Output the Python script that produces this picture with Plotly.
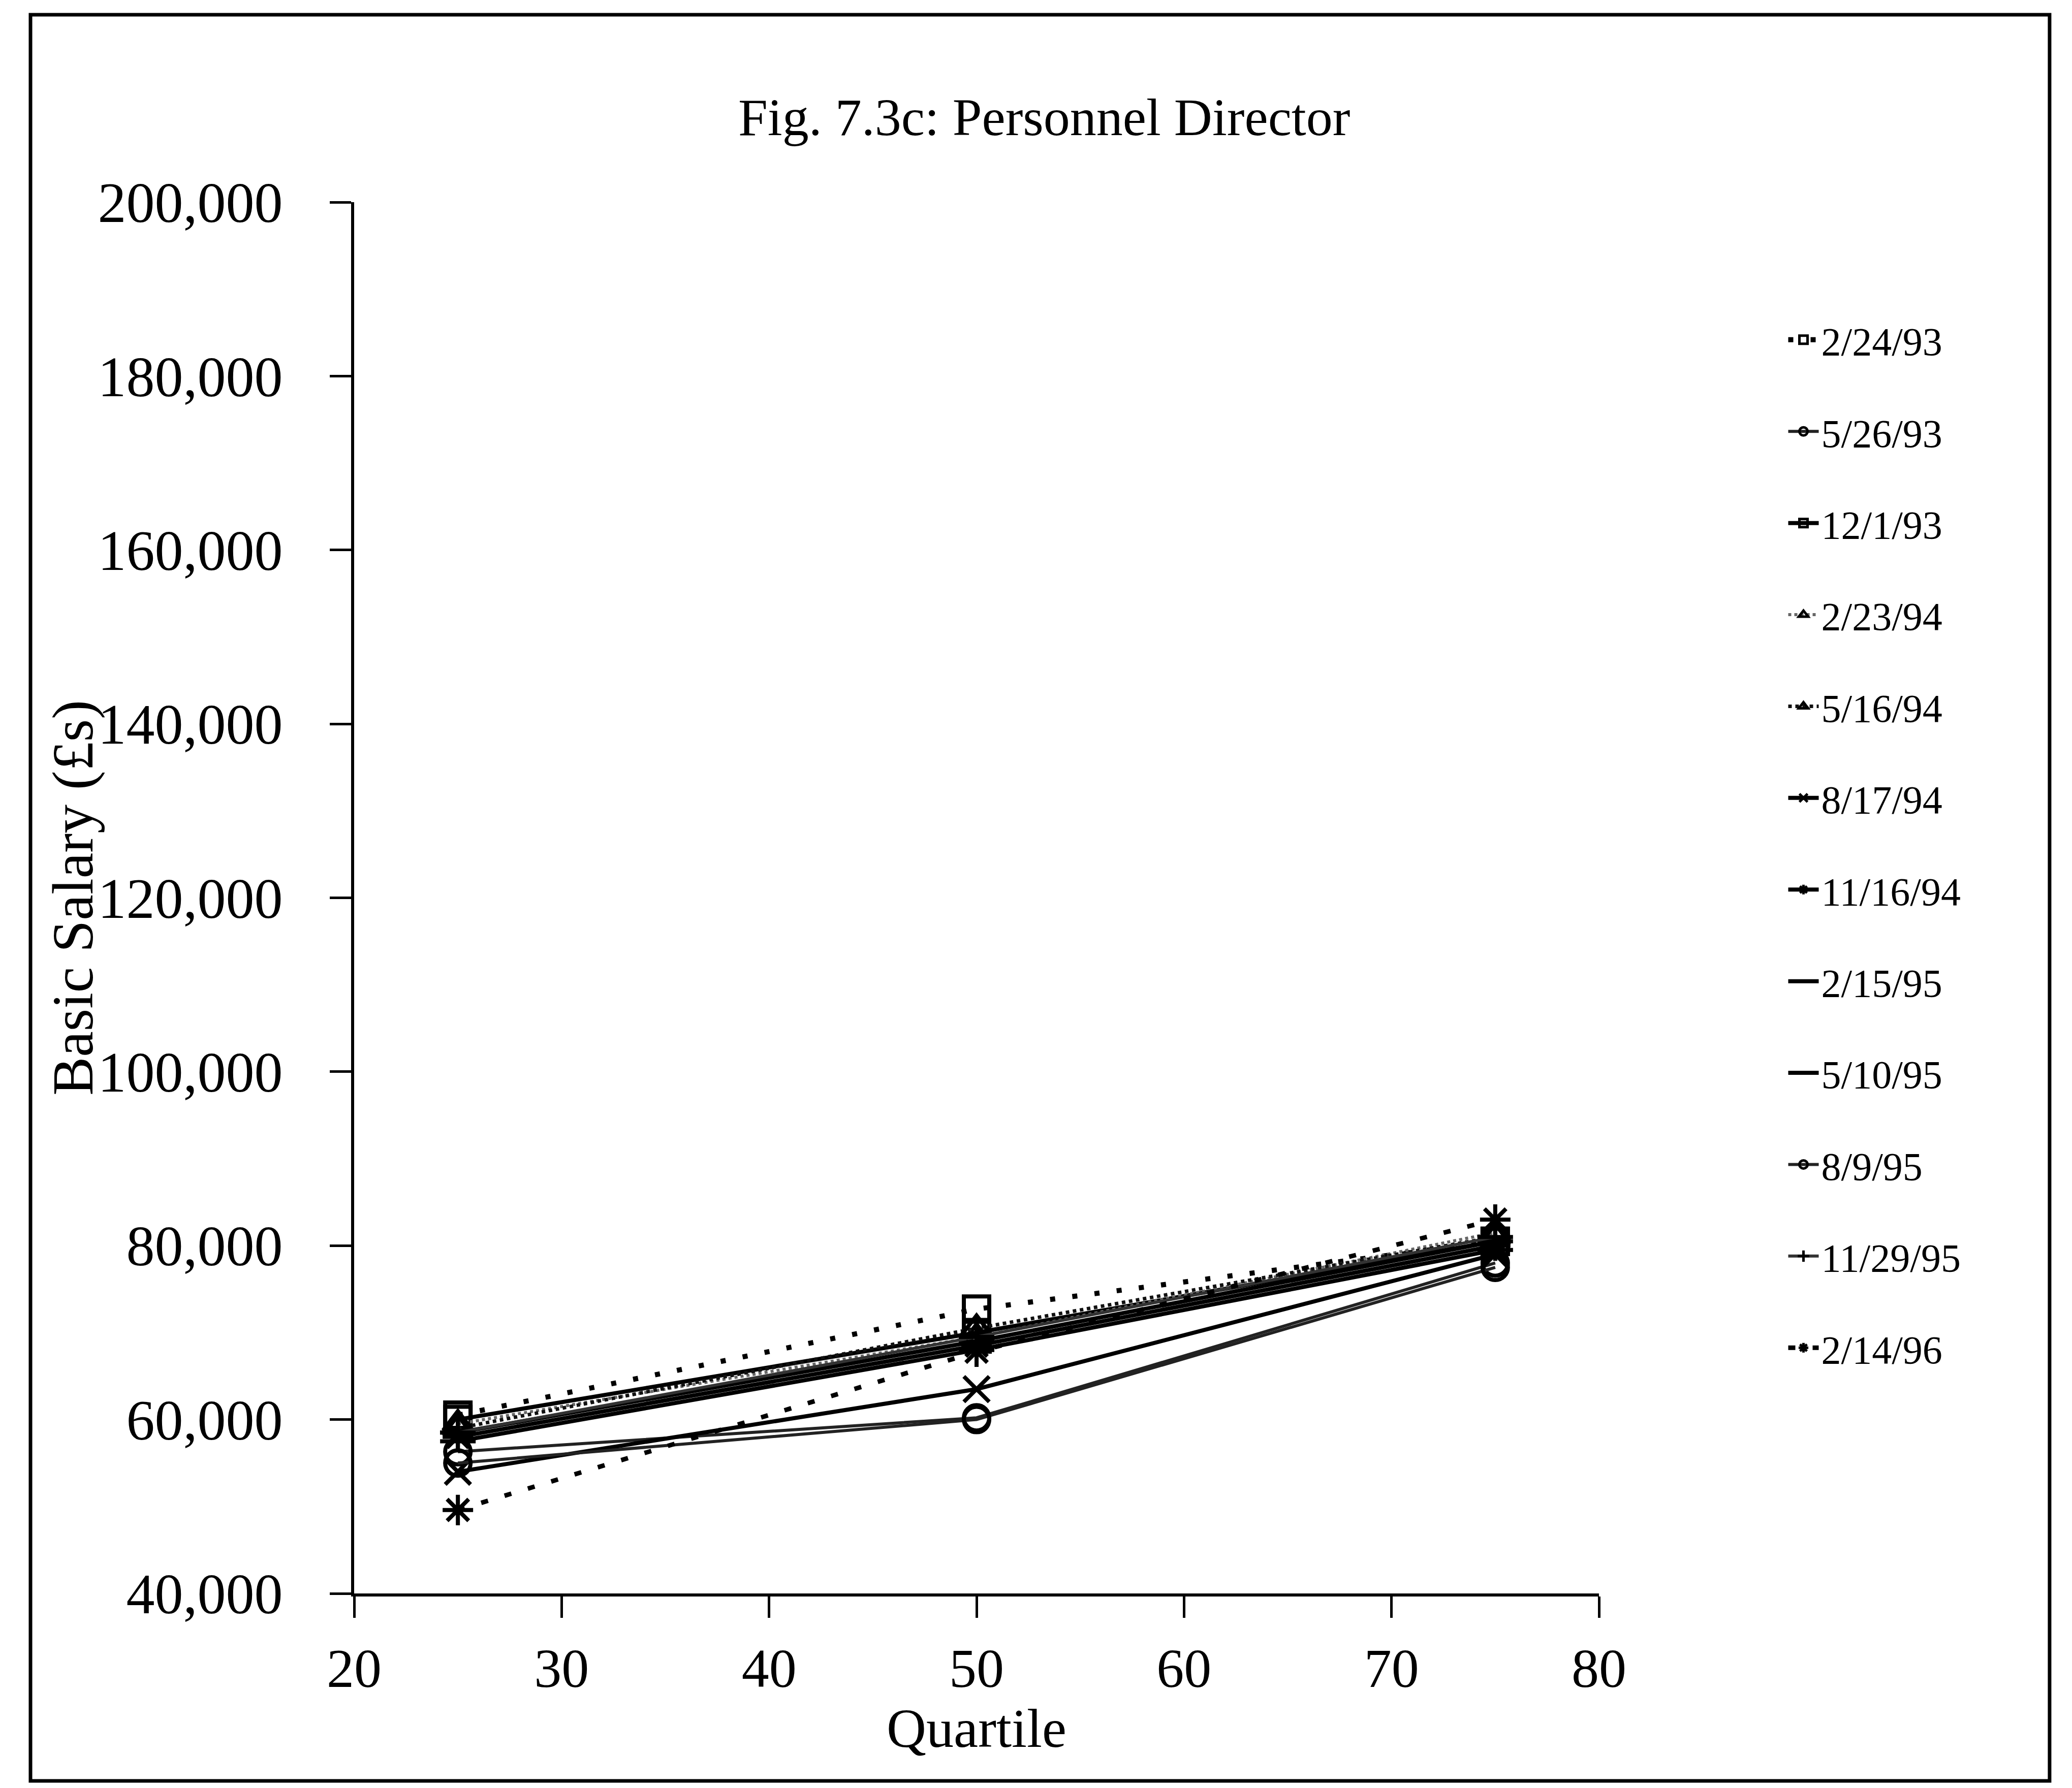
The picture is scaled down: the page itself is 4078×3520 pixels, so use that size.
import plotly.graph_objects as go

quartiles = [25, 50, 75]
series_names = ["2/24/93", "5/26/93", "12/1/93", "2/23/94", "5/16/94", "8/17/94",
                "11/16/94", "2/15/95", "5/10/95", "8/9/95", "11/29/95", "2/14/96"]
s_2_24_93 = [60500, 72700, 80500]
s_5_26_93 = [56300, 60200, 78000]
s_12_1_93 = [60000, 70000, 80500]
s_2_23_94 = [59500, 69500, 81500]
s_5_16_94 = [59000, 70500, 81000]
s_8_17_94 = [54000, 63500, 79000]
s_11_16_94 = [58000, 68500, 80000]
s_2_15_95 = [58500, 69000, 80500]
s_5_10_95 = [57500, 68000, 79500]
s_8_9_95 = [55000, 60000, 77500]
s_11_29_95 = [58500, 69500, 81000]
s_2_14_96 = [49600, 67800, 83000]
series_values = [s_2_24_93, s_5_26_93, s_12_1_93, s_2_23_94, s_5_16_94, s_8_17_94,
                 s_11_16_94, s_2_15_95, s_5_10_95, s_8_9_95, s_11_29_95, s_2_14_96]

x_ticks = [20, 30, 40, 50, 60, 70, 80]
y_ticks = [40000, 60000, 80000, 100000, 120000, 140000, 160000, 180000, 200000]
y_tick_labels = ["40,000", "60,000", "80,000", "100,000", "120,000", "140,000",
                 "160,000", "180,000", "200,000"]

# style per series: (dash, width, color, symbol)
styles = [
    ("10px,34px", 10, "black", "square-open"),
    ("solid", 6, "#222", "circle-open"),
    ("solid", 8, "black", "square-open"),
    ("dot", 6, "#666", "triangle-up-open"),
    ("dot", 7, "#111", "triangle-up-open"),
    ("solid", 8, "black", "x-thin-open"),
    ("solid", 8, "black", "asterisk-open"),
    ("solid", 8, "black", "line-ew-open"),
    ("solid", 8, "black", "line-ew-open"),
    ("solid", 6, "#222", "circle-open"),
    ("solid", 6, "#333", "cross-thin-open"),
    ("14px,34px", 9, "black", "asterisk-open"),
]

FONT = "Liberation Serif"
fig = go.Figure()
for i, (name, vals) in enumerate(zip(series_names, series_values)):
    dash, w, col, sym = styles[i]
    fig.add_trace(go.Scatter(
        x=quartiles, y=vals, name=name, mode="lines+markers",
        legendgroup=f"g{i}",
        line=dict(color=col, width=w, dash=dash),
        marker=dict(symbol=sym, size=50, color="black",
                    line=dict(color="black", width=8)),
    ))

fig.update_layout(
    width=4078, height=3520,
    paper_bgcolor="white", plot_bgcolor="white",
    margin=dict(l=689, r=939, t=390, b=391),
    font=dict(family=FONT, color="black", size=108),
    title=dict(text="Fig. 7.3c: Personnel Director", x=0.502, xref="container",
               y=0.937, yref="container", yanchor="middle", xanchor="center",
               font=dict(family=FONT, size=104, color="black")),
    showlegend=True,
    legend=dict(x=1.15, y=0.922, xanchor="left", yanchor="top",
                font=dict(family=FONT, size=78, color="black"),
                tracegroupgap=76, itemwidth=60, bgcolor="rgba(0,0,0,0)"),
)
fig.update_xaxes(
    range=[20, 80], tickvals=x_ticks, showgrid=False, zeroline=False,
    showline=True, linecolor="black", linewidth=6,
    ticks="outside", ticklen=42, tickwidth=5, tickcolor="black",
    tickfont=dict(family=FONT, size=108), ticklabelstandoff=6,
)
fig.update_yaxes(
    range=[40000, 200000], tickvals=y_ticks, ticktext=y_tick_labels,
    showgrid=False, zeroline=False,
    showline=True, linecolor="black", linewidth=6,
    ticks="outside", ticklen=42, tickwidth=5, tickcolor="black",
    tickfont=dict(family=FONT, size=112), ticklabelstandoff=70,
)
# axis titles
fig.add_annotation(text="Quartile", xref="paper", yref="paper", x=0.5, y=-0.097,
                   xanchor="center", yanchor="middle", showarrow=False,
                   font=dict(family=FONT, size=108, color="black"))
fig.add_annotation(text="Basic Salary (£s)", xref="paper", yref="paper", x=-0.226, y=0.5,
                   xanchor="center", yanchor="middle", showarrow=False, textangle=-90,
                   font=dict(family=FONT, size=114, color="black"))
fig.add_shape(type="rect", xref="paper", yref="paper",
              x0=-0.26, x1=1.362, y0=-0.1347, y1=1.1347,
              line=dict(color="black", width=7), fillcolor="rgba(0,0,0,0)")

fig.write_html("out.html")
